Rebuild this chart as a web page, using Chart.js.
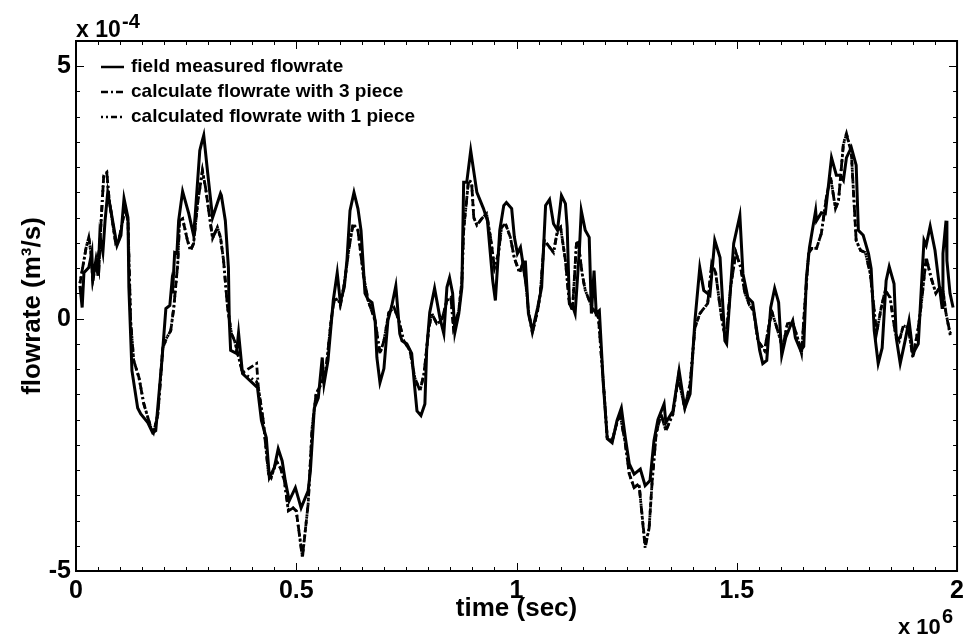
<!DOCTYPE html>
<html>
<head>
<meta charset="utf-8">
<script src="https://cdn.jsdelivr.net/npm/chart.js@4"></script>
<style>
  html, body { margin: 0; padding: 0; background: #fff; }
  canvas { display: block; }
</style>
</head>
<body>
<canvas id="flowChart" width="969" height="640"></canvas>
<script>
// time in units of 10^6 s, flowrate in units of 10^-4 m^3/s
const tMeasured = [0.009,0.014,0.018,0.029,0.036,0.038,0.045,0.050,0.054,0.061,
  0.066,0.072,0.093,0.102,0.109,0.118,0.120,0.127,0.140,0.147,
  0.163,0.174,0.181,0.195,0.204,0.213,0.217,0.219,0.224,0.229,
  0.233,0.242,0.256,0.267,0.271,0.281,0.285,0.290,0.299,0.310,
  0.328,0.330,0.339,0.346,0.348,0.351,0.364,0.369,0.378,0.412,
  0.421,0.432,0.439,0.450,0.459,0.468,0.475,0.484,0.498,0.511,
  0.527,0.532,0.541,0.550,0.559,0.563,0.572,0.584,0.593,0.600,
  0.609,0.615,0.622,0.631,0.640,0.647,0.656,0.663,0.672,0.679,
  0.683,0.690,0.699,0.708,0.717,0.726,0.735,0.740,0.751,0.762,
  0.769,0.774,0.783,0.792,0.796,0.803,0.814,0.826,0.835,0.842,
  0.848,0.855,0.860,0.869,0.876,0.880,0.887,0.896,0.910,0.925,
  0.934,0.946,0.952,0.962,0.971,0.977,0.989,0.995,1.002,1.009,
  1.018,1.020,1.027,1.036,1.048,1.057,1.066,1.075,1.084,1.093,
  1.102,1.111,1.115,1.120,1.127,1.133,1.143,1.147,1.156,1.165,
  1.170,1.176,1.181,1.188,1.197,1.206,1.217,1.228,1.238,1.247,
  1.256,1.267,1.281,1.292,1.303,1.312,1.321,1.335,1.339,1.355,
  1.369,1.382,1.394,1.405,1.416,1.425,1.439,1.450,1.462,1.473,
  1.477,1.493,1.507,1.514,1.525,1.536,1.541,1.552,1.559,1.568,
  1.577,1.586,1.595,1.602,1.611,1.620,1.627,1.633,1.645,1.652,
  1.658,1.665,1.679,1.681,1.692,1.701,1.715,1.726,1.735,1.742,
  1.749,1.760,1.771,1.776,1.787,1.799,1.805,1.812,1.821,1.830,
  1.839,1.846,1.857,1.862,1.871,1.882,1.891,1.900,1.912,1.919,
  1.925,1.930,1.939,1.950,1.961,1.966,1.968,1.975,1.977,1.984,
  1.991];
const qMeasured = [0.65,0.22,0.91,1.01,1.31,0.75,1.15,0.85,1.65,1.31,
  1.94,2.5,1.45,1.65,2.38,2.0,0.62,-1.03,-1.77,-1.89,
  -2.06,-2.26,-2.22,-0.83,0.2,0.26,0.65,0.5,1.31,1.29,
  1.94,2.52,2.08,1.65,2.1,3.33,3.47,3.63,2.88,2.0,
  2.48,2.44,1.94,1.01,-0.04,-0.63,-0.69,-0.28,-1.09,-1.37,
  -2.02,-2.36,-3.15,-2.96,-2.58,-2.82,-3.21,-3.61,-3.35,-3.75,
  -3.41,-3.02,-1.77,-1.57,-0.77,-1.29,-0.83,0.36,0.91,0.32,
  0.62,1.15,2.14,2.5,2.18,1.75,0.5,0.38,0.32,-0.04,
  -0.77,-1.27,-0.99,-0.04,0.26,0.65,-0.3,-0.44,-0.5,-0.69,
  -1.37,-1.83,-1.92,-1.69,-0.63,0.12,0.6,0.02,-0.3,0.62,
  0.81,0.5,-0.28,0.1,0.62,2.7,2.7,3.33,2.5,2.18,
  1.94,0.75,0.36,1.75,2.24,2.3,2.18,1.62,1.29,1.41,
  0.89,1.15,0.1,-0.24,0.22,0.62,2.24,2.36,1.88,1.75,
  2.44,2.28,1.81,0.3,0.26,0.1,1.41,2.14,1.75,1.61,
  0.1,0.95,0.1,0.16,-1.29,-2.38,-2.46,-2.02,-1.77,-2.36,
  -2.88,-3.08,-2.98,-3.31,-3.21,-2.42,-2.0,-1.69,-2.06,-1.83,
  -1.03,-1.77,-1.49,-0.04,1.01,0.56,0.46,1.55,1.21,-0.44,
  -0.5,1.49,2.04,0.89,0.42,0.32,0.02,-0.63,-0.89,-0.83,
  0.22,0.6,0.32,-0.73,-0.38,-0.18,-0.04,-0.38,-0.63,-0.55,
  0.8,1.41,2.14,1.94,2.1,2.08,3.19,2.84,2.84,2.74,
  3.19,3.39,3.04,1.75,1.65,1.29,0.99,-0.24,-0.89,-0.58,
  0.75,1.03,0.69,-0.38,-0.89,-0.44,-0.04,-0.69,-0.5,0.62,
  1.55,1.45,1.83,1.35,0.56,0.22,1.29,1.94,1.15,0.5,
  0.22];

const tCalc = [0.009,0.023,0.029,0.034,0.038,0.048,0.052,0.057,0.063,0.070,
  0.075,0.090,0.097,0.106,0.111,0.118,0.124,0.131,0.143,0.154,
  0.170,0.176,0.186,0.197,0.206,0.215,0.222,0.231,0.235,0.242,
  0.253,0.260,0.267,0.276,0.287,0.294,0.310,0.321,0.328,0.335,
  0.344,0.353,0.360,0.367,0.378,0.410,0.414,0.425,0.437,0.443,
  0.455,0.464,0.473,0.482,0.493,0.500,0.514,0.527,0.536,0.545,
  0.557,0.568,0.579,0.586,0.595,0.600,0.609,0.620,0.629,0.640,
  0.652,0.663,0.679,0.690,0.699,0.710,0.722,0.733,0.744,0.758,
  0.769,0.781,0.790,0.801,0.808,0.819,0.830,0.842,0.851,0.857,
  0.869,0.876,0.880,0.891,0.898,0.903,0.910,0.921,0.932,0.941,
  0.950,0.959,0.966,0.975,0.986,0.995,1.007,1.014,1.020,1.027,
  1.036,1.048,1.054,1.063,1.072,1.084,1.093,1.100,1.111,1.120,
  1.127,1.136,1.140,1.149,1.156,1.167,1.176,1.186,1.199,1.206,
  1.217,1.228,1.235,1.247,1.256,1.267,1.278,1.292,1.301,1.308,
  1.317,1.328,1.339,1.355,1.367,1.382,1.394,1.405,1.416,1.434,
  1.443,1.452,1.464,1.475,1.486,1.498,1.509,1.518,1.529,1.538,
  1.548,1.563,1.575,1.581,1.593,1.604,1.615,1.627,1.638,1.647,
  1.654,1.663,1.670,1.681,1.692,1.704,1.713,1.724,1.731,1.742,
  1.749,1.760,1.771,1.781,1.792,1.803,1.812,1.817,1.828,1.837,
  1.848,1.860,1.869,1.878,1.889,1.900,1.912,1.919,1.930,1.941,
  1.952,1.961,1.968,1.975,1.984,1.991];
const qCalc3 = [0.7,1.41,1.61,1.29,0.75,1.21,1.01,1.94,2.84,2.9,
  2.38,1.49,1.55,1.94,2.18,1.94,-0.04,-0.83,-1.17,-1.69,
  -2.16,-2.26,-1.89,-0.58,-0.38,-0.24,0.22,1.09,1.94,1.98,
  1.55,1.35,1.49,2.28,2.94,2.6,1.59,1.81,1.61,1.15,
  0.22,-0.3,-0.44,-0.69,-1.07,-0.89,-1.37,-2.02,-3.08,-3.15,
  -2.82,-2.96,-3.21,-3.81,-3.75,-3.81,-4.74,-3.67,-2.16,-1.49,
  -1.29,-0.97,-0.04,0.36,0.4,0.26,0.69,1.41,1.88,1.75,
  0.89,0.36,-0.04,-0.69,-0.44,0.12,0.22,-0.04,-0.44,-0.63,
  -1.17,-1.43,-1.09,-0.18,0.1,-0.1,-0.04,0.36,0.42,-0.18,
  0.16,0.75,1.75,2.74,2.7,2.0,1.85,1.98,2.08,1.61,
  1.01,1.29,1.81,1.88,1.61,1.2,0.91,1.09,0.81,0.16,
  -0.28,0.16,0.5,1.55,1.45,1.31,1.75,1.81,1.15,0.3,
  0.16,1.49,1.51,0.89,0.56,0.32,0.16,0.02,-1.49,-2.38,
  -2.42,-2.06,-1.89,-2.48,-3.08,-3.35,-3.27,-4.54,-4.15,-3.21,
  -2.28,-1.89,-2.22,-1.89,-1.17,-1.77,-1.29,-0.18,0.1,0.3,
  1.09,0.91,0.1,-0.44,0.62,1.31,1.01,0.52,0.26,0.16,
  -0.44,-0.63,-0.04,0.1,-0.24,-0.58,-0.1,-0.08,-0.38,-0.69,
  0.22,1.29,1.39,1.39,1.69,2.44,2.8,2.18,2.34,3.47,
  3.67,3.29,1.55,1.35,1.31,0.89,0.16,-0.3,0.22,0.56,
  0.42,-0.3,-0.44,-0.14,-0.18,-0.77,-0.18,0.3,1.21,0.81,
  0.5,0.62,0.56,0.1,-0.28,-0.24];
const qCalc1 = [0.7,1.41,1.61,1.29,0.75,1.21,1.01,1.94,2.84,2.88,
  2.38,1.49,1.55,1.94,2.18,1.94,-0.04,-0.83,-1.17,-1.69,
  -2.16,-2.26,-1.89,-0.58,-0.38,-0.24,0.22,1.09,1.94,1.98,
  1.55,1.35,1.49,2.28,2.92,2.6,1.59,1.81,1.61,1.15,
  0.22,-0.3,-0.44,-0.69,-1.07,-1.25,-1.37,-2.02,-3.08,-3.15,
  -2.82,-2.96,-3.21,-3.78,-3.75,-3.81,-4.72,-3.67,-2.16,-1.49,
  -1.29,-0.97,-0.04,0.36,0.4,0.26,0.69,1.41,1.88,1.75,
  0.89,0.36,-0.04,-0.69,-0.44,0.12,0.22,-0.04,-0.44,-0.63,
  -1.17,-1.43,-1.09,-0.18,0.1,-0.1,-0.04,0.36,0.42,-0.18,
  0.16,0.75,1.75,2.74,2.7,2.0,1.85,1.98,2.08,1.61,
  1.01,1.29,1.81,1.88,1.61,1.2,0.91,1.09,0.81,0.16,
  -0.28,0.16,0.5,1.55,1.45,1.31,1.75,1.81,1.15,0.3,
  0.16,1.49,1.51,0.89,0.56,0.32,0.16,0.02,-1.49,-2.38,
  -2.42,-2.06,-1.89,-2.48,-3.08,-3.35,-3.27,-4.5,-4.15,-3.21,
  -2.28,-1.89,-2.22,-1.89,-1.17,-1.77,-1.29,-0.18,0.1,0.3,
  1.09,0.91,0.1,-0.44,0.62,1.31,1.01,0.52,0.26,0.16,
  -0.44,-0.63,-0.04,0.1,-0.24,-0.58,-0.1,-0.08,-0.38,-0.69,
  0.22,1.29,1.39,1.39,1.69,2.44,2.8,2.18,2.34,3.45,
  3.65,3.29,1.55,1.35,1.31,0.89,0.16,-0.3,0.22,0.56,
  0.42,-0.3,-0.44,-0.14,-0.18,-0.77,-0.18,0.3,1.21,0.81,
  0.5,0.62,0.56,0.1,-0.3,-0.28];

const seriesLabels = ['field measured flowrate', 'calculate flowrate with 3 piece', 'calculated flowrate with 1 piece'];
const xTickVals = [0, 0.5, 1, 1.5, 2];
const yTickVals = [-5, 0, 5];

const FONT = "'Liberation Sans', Arial, sans-serif";

function pairs(ts, qs) {
  return ts.map((t, i) => ({ x: t, y: qs[i] }));
}

// frame, inward MATLAB-style ticks, legend and exponent labels
const matlabFrame = {
  id: 'matlabFrame',
  afterDatasetsDraw(chart) {
    const { ctx, chartArea: a, scales: { x, y } } = chart;
    ctx.save();
    ctx.strokeStyle = '#000';
    ctx.lineWidth = 1;
    ctx.beginPath();
    for (let i = 0; i <= 40; i++) {
      const v = i * 0.05;
      const px = Math.round(x.getPixelForValue(v)) + 0.5;
      const len = (i % 10 === 0) ? 8 : 4;
      ctx.moveTo(px, a.bottom); ctx.lineTo(px, a.bottom - len);
      ctx.moveTo(px, a.top); ctx.lineTo(px, a.top + len);
    }
    for (let i = 0; i <= 21; i++) {
      const v = -5 + i * 0.5;
      const py = Math.round(y.getPixelForValue(v)) + 0.5;
      const len = (i % 10 === 0) ? 8 : 4;
      ctx.moveTo(a.left, py); ctx.lineTo(a.left + len, py);
      ctx.moveTo(a.right, py); ctx.lineTo(a.right - len, py);
    }
    ctx.stroke();

    ctx.lineWidth = 2;
    ctx.strokeRect(a.left, a.top, a.right - a.left, a.bottom - a.top);

    // legend
    ctx.font = `bold 19px ${FONT}`;
    ctx.fillStyle = '#000';
    ctx.textBaseline = 'middle';
    chart.data.datasets.forEach((ds, i) => {
      const ly = a.top + 26 + i * 25;
      ctx.lineWidth = 2.5;
      ctx.setLineDash(ds.borderDash || []);
      ctx.beginPath();
      ctx.moveTo(a.left + 25, ly); ctx.lineTo(a.left + 48, ly);
      ctx.stroke();
      ctx.setLineDash([]);
      ctx.fillText(ds.label, a.left + 55, ly);
    });

    // exponent labels
    ctx.textBaseline = 'alphabetic';
    ctx.font = `bold 23px ${FONT}`;
    ctx.fillText('x 10', a.left, a.top - 4);
    ctx.font = `bold 20px ${FONT}`;
    ctx.fillText('-4', a.left + 46, a.top - 13);
    ctx.font = `bold 22px ${FONT}`;
    ctx.fillText('x 10', 898, 634);
    ctx.font = `bold 20px ${FONT}`;
    ctx.fillText('6', 942, 623);
    ctx.restore();
  }
};

const ctx = document.getElementById('flowChart').getContext('2d');
const flowChart = new Chart(ctx, {
  type: 'line',
  data: {
    datasets: [
      {
        label: seriesLabels[0],
        data: pairs(tMeasured, qMeasured),
        borderColor: '#000',
        borderWidth: 3,
        pointRadius: 0,
        tension: 0
      },
      {
        label: seriesLabels[1],
        data: pairs(tCalc, qCalc3),
        borderColor: '#000',
        borderWidth: 2.8,
        borderDash: [7, 3, 2, 3],
        pointRadius: 0,
        tension: 0
      },
      {
        label: seriesLabels[2],
        data: pairs(tCalc, qCalc1),
        borderColor: '#000',
        borderWidth: 2.8,
        borderDash: [2, 3, 2, 3, 6, 3],
        pointRadius: 0,
        tension: 0
      }
    ]
  },
  options: {
    responsive: false,
    animation: false,
    events: [],
    layout: { padding: { top: 41, right: 9, left: 0, bottom: 0 } },
    plugins: { legend: { display: false }, tooltip: { enabled: false } },
    scales: {
      x: {
        type: 'linear',
        min: 0, max: 2,
        afterBuildTicks: s => { s.ticks = xTickVals.map(v => ({ value: v })); },
        afterFit: s => { s.height = 69; },
        ticks: {
          color: '#000', font: { family: FONT, size: 25, weight: 'bold' },
          padding: 5, maxRotation: 0, autoSkip: false,
          callback: v => String(v)
        },
        grid: { display: false, drawTicks: false },
        border: { display: false },
        title: {
          display: true, text: 'time (sec)', color: '#000',
          font: { family: FONT, size: 26, weight: 'bold' },
          padding: { top: 0, bottom: 16 }
        }
      },
      y: {
        type: 'linear',
        min: -5, max: 5.5,
        afterBuildTicks: s => { s.ticks = yTickVals.map(v => ({ value: v })); },
        afterFit: s => { s.width = 76; },
        ticks: {
          color: '#000', font: { family: FONT, size: 25, weight: 'bold' },
          padding: 5, autoSkip: false,
          callback: v => String(v)
        },
        grid: { display: false, drawTicks: false },
        border: { display: false },
        title: {
          display: true, text: 'flowrate (m\u00B3/s)', color: '#000',
          font: { family: FONT, size: 26, weight: 'bold' },
          padding: { top: 17, bottom: 0 }
        }
      }
    }
  },
  plugins: [matlabFrame]
});
</script>
</body>
</html>
